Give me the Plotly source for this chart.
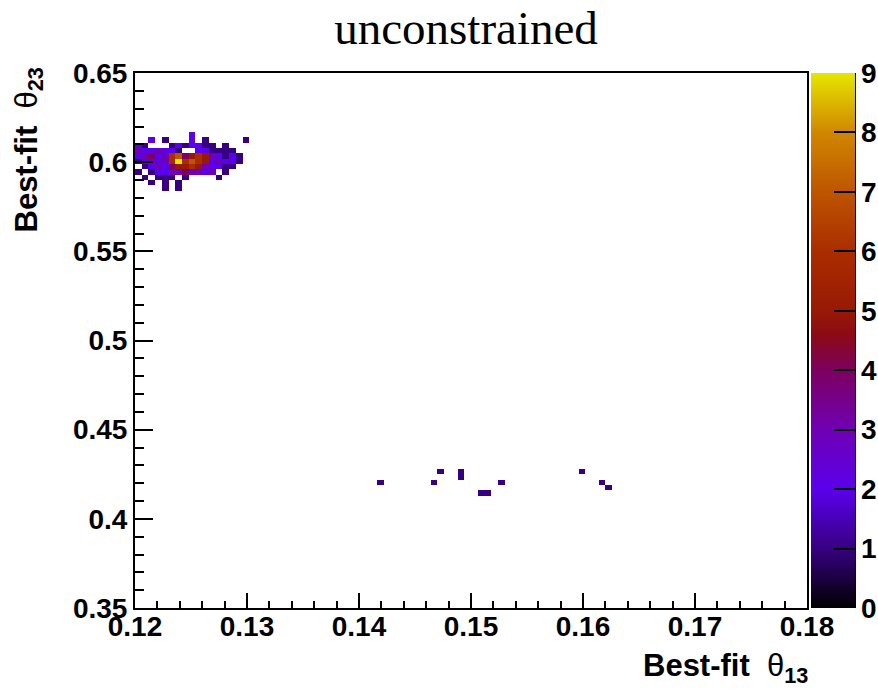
import numpy as np
import plotly.graph_objects as go

# Histogram binning (theta13 on x, theta23 on y)
X_MIN, X_MAX, NX = 0.12, 0.18, 100
Y_MIN, Y_MAX, NY = 0.35, 0.65, 100

# Filled bins: theta13 bin index, theta23 bin index, number of entries
bin13 = [8,
         2, 4, 8, 10, 16,
         0, 1, 5, 6, 7, 8, 9, 10, 11, 13,
         0, 1, 2, 3, 4, 5, 6, 9, 10, 11, 12, 13, 14,
         0, 1, 2, 3, 4, 5, 6, 7, 8, 9, 10, 11, 12, 13, 14, 15,
         0, 1, 2, 3, 4, 5, 6, 7, 8, 9, 10, 11, 12, 13, 14, 15,
         1, 2, 3, 4, 5, 6, 7, 8, 9, 10, 11, 12, 13, 14,
         0, 2, 3, 4, 5, 6, 7, 8, 9, 10, 11, 13,
         1, 3, 4, 5, 7, 12,
         2, 4, 6,
         4, 6,
         36, 44, 45, 48, 48, 51, 52, 54, 66, 69, 70]
bin23 = [88,
         87, 87, 87, 87, 87,
         86, 86, 86, 86, 86, 86, 86, 86, 86, 86,
         85, 85, 85, 85, 85, 85, 85, 85, 85, 85, 85, 85, 85,
         84, 84, 84, 84, 84, 84, 84, 84, 84, 84, 84, 84, 84, 84, 84, 84,
         83, 83, 83, 83, 83, 83, 83, 83, 83, 83, 83, 83, 83, 83, 83, 83,
         82, 82, 82, 82, 82, 82, 82, 82, 82, 82, 82, 82, 82, 82,
         81, 81, 81, 81, 81, 81, 81, 81, 81, 81, 81, 81,
         80, 80, 80, 80, 80, 80,
         79, 79, 79,
         78, 78,
         23, 23, 25, 24, 25, 21, 21, 23, 25, 23, 22]
entries = [2,
           2, 1, 2, 1, 1,
           2, 1, 1, 2, 1, 2, 2, 1, 1, 1,
           3, 2, 2, 3, 2, 2, 1, 2, 2, 1, 1, 1, 1,
           2, 3, 4, 2, 3, 6, 7, 4, 5, 6, 5, 3, 2, 1, 2, 1,
           1, 2, 3, 2, 3, 6, 9, 6, 7, 6, 5, 2, 3, 2, 2, 1,
           1, 2, 3, 2, 4, 5, 5, 6, 5, 3, 2, 2, 1, 1,
           1, 1, 2, 2, 3, 3, 4, 3, 3, 2, 3, 1,
           1, 1, 1, 1, 1, 1,
           1, 1, 1,
           1, 1,
           1, 1, 1, 1, 1, 1, 1, 1, 1, 1, 1]

x_tick_vals = [0.12, 0.13, 0.14, 0.15, 0.16, 0.17, 0.18]
y_tick_vals = [0.35, 0.40, 0.45, 0.50, 0.55, 0.60, 0.65]
x_tick_text = ["0.12", "0.13", "0.14", "0.15", "0.16", "0.17", "0.18"]
y_tick_text = ["0.35", "0.4", "0.45", "0.5", "0.55", "0.6", "0.65"]
z_ticks = list(range(10))

dx = (X_MAX - X_MIN) / NX
dy = (Y_MAX - Y_MIN) / NY
xc = X_MIN + dx * (np.arange(NX) + 0.5)
yc = Y_MIN + dy * (np.arange(NY) + 0.5)
z = np.full((NY, NX), np.nan)
for i, j, n in zip(bin13, bin23, entries):
    z[j, i] = n

# black -> indigo -> violet -> purple -> dark red -> orange -> yellow
palette = [
    [0.0, "rgb(0,0,0)"],
    [1 / 9, "rgb(55,0,128)"],
    [2 / 9, "rgb(90,0,235)"],
    [3 / 9, "rgb(112,0,180)"],
    [4 / 9, "rgb(125,0,95)"],
    [4.6 / 9, "rgb(140,10,20)"],
    [5 / 9, "rgb(152,25,5)"],
    [6 / 9, "rgb(170,45,0)"],
    [7 / 9, "rgb(190,85,0)"],
    [8 / 9, "rgb(208,135,0)"],
    [1.0, "rgb(230,230,0)"],
]

W, H = 878, 691
L, T, B = 135, 73, 83
FRAME_RIGHT = 807
paper_w = W - L            # right margin is zero; the frame ends inside the paper
plot_w = FRAME_RIGHT - L
ph = H - T - B


def px_x(p):
    """Pixel column -> paper x."""
    return (p - L) / paper_w


def px_y(p):
    """Pixel row -> paper y."""
    return ((H - B) - p) / ph


bold = dict(family="Liberation Sans, Arial, sans-serif", size=28, color="black", weight="bold")

fig = go.Figure(go.Heatmap(
    x=xc, y=yc, z=z,
    zmin=0, zmax=9,
    colorscale=palette,
    hoverongaps=False,
    colorbar=dict(
        x=px_x(811), xanchor="left", xref="paper",
        y=0.5, yanchor="middle", len=1, lenmode="fraction",
        thickness=44, thicknessmode="pixels",
        xpad=0, ypad=0, outlinewidth=0,
        tickvals=z_ticks, ticktext=[str(v) for v in z_ticks],
        ticks="inside", ticklen=21, tickwidth=2, tickcolor="black",
        tickfont=bold,
    ),
))

axis_common = dict(
    showgrid=False, zeroline=False,
    showline=True, linecolor="black", linewidth=2, mirror=True,
    ticks="inside", tickcolor="black", tickwidth=2,
    tickfont=bold,
)

fig.update_xaxes(
    domain=[0, plot_w / paper_w],
    range=[X_MIN, X_MAX], tickvals=x_tick_vals, ticktext=x_tick_text,
    ticklen=15, ticklabelstandoff=-8,
    minor=dict(dtick=0.002, ticks="inside", ticklen=7,
               tickwidth=2, tickcolor="black"),
    **axis_common,
)
fig.update_yaxes(
    range=[Y_MIN, Y_MAX], tickvals=y_tick_vals, ticktext=y_tick_text,
    ticklen=18, minor=dict(dtick=0.01, ticks="inside", ticklen=9,
                           tickwidth=2, tickcolor="black"),
    **axis_common,
)

axis_title_font = dict(family="Liberation Sans, Arial, sans-serif", size=31, color="black")

fig.update_layout(
    width=W, height=H,
    margin=dict(l=L, r=0, t=T, b=B, autoexpand=False),
    paper_bgcolor="white", plot_bgcolor="white",
    title=dict(
        text="unconstrained",
        font=dict(family="Liberation Serif, Times New Roman, serif", size=47, color="black"),
        x=466 / W, xref="container", xanchor="center",
        y=1 - 28 / H, yref="container", yanchor="middle",
    ),
    annotations=[
        dict(
            text="<b>Best-fit</b>  θ<sub><b>13</b></sub>",
            xref="paper", yref="paper",
            x=px_x(810), xanchor="right",
            y=px_y(668), yanchor="middle",
            showarrow=False, font=axis_title_font,
        ),
        dict(
            text="<b>Best-fit</b>  θ<sub><b>23</b></sub>",
            xref="paper", yref="paper",
            x=px_x(28), xanchor="center",
            y=px_y(66), yanchor="top",
            textangle=-90,
            showarrow=False, font=axis_title_font,
        ),
    ],
    shapes=[
        dict(type="line", xref="paper", yref="paper",
             x0=px_x(855), x1=px_x(855), y0=0, y1=1,
             line=dict(color="black", width=2)),
    ],
)

fig.write_html("out.html")
